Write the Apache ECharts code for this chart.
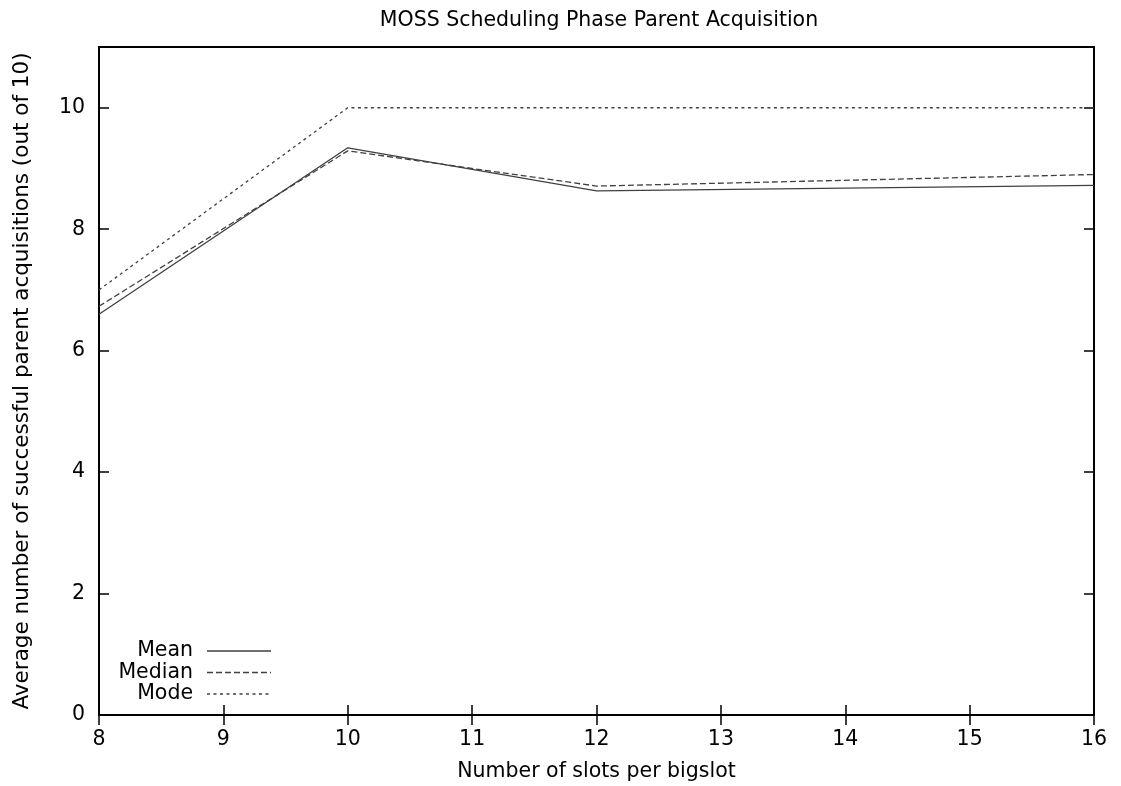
<!DOCTYPE html>
<html>
<head>
<meta charset="utf-8">
<script src="https://cdn.jsdelivr.net/npm/echarts@6/dist/echarts.min.js"></script>
<style>
  html, body { margin: 0; padding: 0; background: #fff; }
  #main { width: 1121px; height: 786px; }
</style>
</head>
<body>
<div id="main"></div>
<script>
// slots per bigslot
var slots = [8, 10, 12, 16];
var meanVals = [6.6, 9.34, 8.63, 8.72];
var medianVals = [6.73, 9.29, 8.71, 8.9];
var modeVals = [7, 10, 10, 10];
var xTicks = [8, 9, 10, 11, 12, 13, 14, 15, 16];
var yTicks = [0, 2, 4, 6, 8, 10];
var seriesNames = ["Mean", "Median", "Mode"];

function pairs(xs, ys) {
  return xs.map(function (x, i) { return [x, ys[i]]; });
}

var font = "DejaVu Sans";
var fs = 20.5;
var lineColor = "#404040";
var dashes = ["solid", [6, 3], [3, 3.5]];

// gnuplot style key: label on the left, line sample on the right
var keyItems = [];
seriesNames.forEach(function (name, i) {
  var y = 651 + i * 21.5;
  keyItems.push({
    type: "text",
    x: 193,
    y: y,
    style: {
      text: name,
      font: fs + "px " + font,
      fill: "#000",
      align: "right",
      verticalAlign: "middle",
    },
  });
  keyItems.push({
    type: "line",
    shape: { x1: 207, y1: y, x2: 271, y2: y },
    style: { stroke: lineColor, lineWidth: 1.3, lineDash: dashes[i] === "solid" ? null : dashes[i] },
  });
});

var myChart = echarts.init(document.getElementById("main"));

var option = {
  animation: false,
  title: {
    text: "MOSS Scheduling Phase Parent Acquisition",
    left: 594,
    textAlign: "center",
    top: 5,
    textStyle: { fontFamily: font, fontSize: fs, fontWeight: "normal", color: "#000" },
  },
  graphic: keyItems,
  grid: {
    left: 99,
    right: 27,
    top: 47,
    bottom: 71,
    outerBoundsMode: "none",
    show: true,
    borderColor: "#000",
    borderWidth: 2,
  },
  xAxis: [
    {
      type: "value",
      min: 8,
      max: 16,
      interval: 1,
      name: "Number of slots per bigslot",
      nameLocation: "middle",
      nameGap: 46,
      nameTextStyle: { fontFamily: font, fontSize: fs, color: "#000" },
      axisLine: { show: true, lineStyle: { color: "#000", width: 2 } },
      axisTick: { inside: true, length: 10, lineStyle: { color: "#000", width: 1.5 } },
      axisLabel: { margin: 14, fontFamily: font, fontSize: fs, color: "#000" },
      splitLine: { show: false },
    },
    {
      type: "value",
      position: "top",
      min: 8,
      max: 16,
      interval: 1,
      axisLine: { show: true, lineStyle: { color: "#000", width: 2 } },
      axisTick: { inside: true, length: 10, lineStyle: { color: "#000", width: 1.5 } },
      axisLabel: { show: false },
      splitLine: { show: false },
    },
  ],
  yAxis: [
    {
      type: "value",
      min: 0,
      max: 11,
      interval: 2,
      name: "Average number of successful parent acquisitions (out of 10)",
      nameLocation: "middle",
      nameGap: 66,
      nameTextStyle: { fontFamily: font, fontSize: 21.5, color: "#000" },
      axisLine: { show: true, lineStyle: { color: "#000", width: 2 } },
      axisTick: { inside: true, length: 10, lineStyle: { color: "#000", width: 1.5 } },
      axisLabel: {
        margin: 14,
        fontFamily: font,
        fontSize: fs,
        color: "#000",
        showMaxLabel: false,
      },
      splitLine: { show: false },
    },
    {
      type: "value",
      position: "right",
      min: 0,
      max: 11,
      interval: 2,
      axisLine: { show: true, lineStyle: { color: "#000", width: 2 } },
      axisTick: { inside: true, length: 10, lineStyle: { color: "#000", width: 1.5 } },
      axisLabel: { show: false },
      splitLine: { show: false },
    },
  ],
  series: seriesNames.map(function (name, i) {
    return {
      name: name,
      type: "line",
      data: pairs(slots, [meanVals, medianVals, modeVals][i]),
      showSymbol: false,
      symbol: "none",
      lineStyle: { color: lineColor, width: 1.3, type: dashes[i] },
    };
  }),
};
myChart.setOption(option);
</script>
</body>
</html>
